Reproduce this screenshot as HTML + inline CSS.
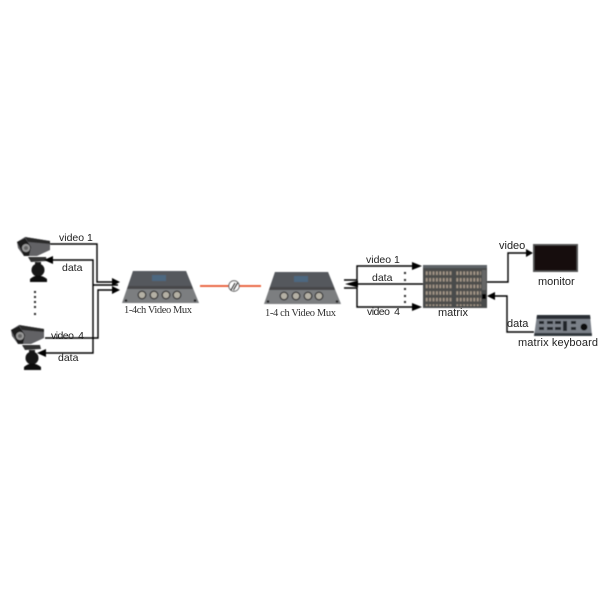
<!DOCTYPE html>
<html>
<head>
<meta charset="utf-8">
<style>
html,body{margin:0;padding:0;background:#fff;width:600px;height:600px;overflow:hidden}
svg{display:block}
text{font-family:"Liberation Sans",sans-serif;font-size:10.5px;fill:#222}
.s{font-family:"Liberation Serif",serif;font-size:10.5px;fill:#333}
.l{fill:none;stroke:#000;stroke-width:1.4}
.a{fill:#000}
</style>
</head>
<body>
<svg width="600" height="600" viewBox="0 0 600 600" xmlns="http://www.w3.org/2000/svg">
<defs>
<filter id="b" x="-10%" y="-10%" width="120%" height="120%"><feGaussianBlur stdDeviation="0.5"/></filter>
<pattern id="m" width="3.4" height="6.6" patternUnits="userSpaceOnUse"><rect width="3.4" height="6.600" fill="#4e4e4c"/><rect x="0.8" y="0.8" width="1.800" height="3.600" fill="#a89a8a"/></pattern>
<g id="cam">
<path d="M1 5 L9 0 L34 4 L34 13 L21 19 L8 19 L2 11Z" fill="#626265"/>
<path d="M9 0 L34 4 L34 7 L12 5Z" fill="#2a2a2c"/>
<path d="M1 5 L9 1 L15 10 L13 19 L8 19Z" fill="#1c1c1e"/>
<circle cx="10" cy="11" r="4" fill="#999"/>
<circle cx="10" cy="11" r="2" fill="#666"/>
<path d="M12 20 L30 20 L31 24 L15 25Z" fill="#333"/>
<rect x="19" y="25" width="6" height="4" fill="#222"/>
<circle cx="22" cy="33" r="6.500" fill="#151515"/>
<path d="M14 42 Q22 35 31 42 L31 45 L14 45Z" fill="#0c0c0c"/>
</g>
<g id="mux">
<path d="M11 0 L64 0 L77 32 L0 32Z" fill="#7c7e80"/>
<path d="M11 0 L64 0 L70 15 L6 15Z" fill="#55595d"/>
<rect x="30" y="4" width="14" height="6" fill="#4d6880"/>
<path d="M6 15 L70 15 L71 18 L5 18Z" fill="#47474a"/>
<g fill="#b4b0a4" stroke="#3a3a3a" stroke-width="1.400"><circle cx="20" cy="24" r="3.800"/><circle cx="32" cy="24" r="3.800"/><circle cx="44" cy="24" r="3.800"/><circle cx="55" cy="24" r="3.800"/></g>
<g fill="#222"><circle cx="4" cy="29.500" r="1.300"/><circle cx="73" cy="29.500" r="1.300"/></g>
</g>
</defs>

<g filter="url(#b)">
<use href="#cam" x="16" y="237"/>
<use href="#cam" x="10" y="325"/>
<use href="#mux" x="122" y="271"/>
<use href="#mux" x="264" y="272"/>

<!-- left wiring -->
<path class="l" d="M50 244H97V282H114"/>
<path class="l" d="M45 338H98V290H114"/>
<path class="l" d="M50 260H93V353H44"/>
<path class="l" d="M93 285H118"/>
<path class="a" d="M120 282L112 278V286Z"/>
<path class="a" d="M120 290L112 286V294Z"/>
<path class="a" d="M44 260L53 256V264Z"/>
<path class="a" d="M37 353L46 349V357Z"/>
<g fill="#222"><rect x="34" y="291" width="2" height="2"/><rect x="34" y="296" width="2" height="2"/><rect x="34" y="301" width="2" height="2"/><rect x="34" y="306" width="2" height="2"/><rect x="34" y="313" width="2" height="2"/></g>

<!-- fiber -->
<path d="M200 286H261" stroke="#e8542c" stroke-width="1.800" fill="none"/>
<circle cx="234" cy="286" r="5.200" fill="#fff" stroke="#555" stroke-width="1"/>
<path d="M231 290L235 283M233.500 290L237.500 283" stroke="#111" stroke-width="1.300"/>

<!-- middle wiring -->
<path class="l" d="M344 280H357V266H415"/>
<path class="l" d="M344 288H357V307H415"/>
<path class="l" d="M350 284H423"/>
<path class="a" d="M422 266L412 262V270Z"/>
<path class="a" d="M422 307L412 303V311Z"/>
<path class="a" d="M345 284L358 280.500V287.500Z"/>
<g fill="#222"><rect x="404" y="272" width="2" height="2"/><rect x="404" y="279" width="2" height="2"/><rect x="404" y="288" width="2" height="2"/><rect x="404" y="295" width="2" height="2"/><rect x="404" y="301" width="2" height="2"/></g>

<!-- matrix -->
<rect x="423" y="265" width="64" height="43" fill="#4a4c4c"/>
<rect x="423" y="265" width="64" height="3" fill="#5e6468"/>
<rect x="425" y="270" width="27" height="36" fill="url(#m)"/>
<rect x="456" y="270" width="25" height="36" fill="url(#m)"/>
<rect x="482" y="270" width="4" height="20" fill="#666"/>
<rect x="482" y="294" width="4" height="5" fill="#000"/>

<!-- right wiring -->
<path class="l" d="M487 282H508V253H528"/>
<path class="a" d="M533 253L526 249V257Z"/>
<path class="l" d="M534 332H507V296H492"/>
<path class="a" d="M487 296L495 292V300Z"/>

<!-- monitor -->
<rect x="533" y="244" width="45" height="28" fill="#555"/>
<rect x="534.500" y="245.500" width="42" height="25" fill="#141010"/>

<!-- keyboard -->
<path d="M537 315H590L592 336H534Z" fill="#7a8088"/>
<path d="M537 315H590L590.500 319H536.500Z" fill="#2a2e34"/>
<path d="M534.500 333H591.700L592 336H534Z" fill="#33373c"/>
<g fill="#22262a">
<rect x="539" y="321" width="5" height="3"/><rect x="547" y="321" width="6" height="3"/><rect x="555" y="321" width="6" height="3"/><rect x="563" y="321" width="4" height="10"/><rect x="571" y="321" width="5" height="3"/>
<rect x="539" y="327" width="5" height="3"/><rect x="547" y="327" width="6" height="3"/><rect x="555" y="327" width="6" height="3"/><rect x="571" y="327" width="5" height="3"/>
</g>
<circle cx="584" cy="327" r="3.500" fill="#111"/>
</g>

<!-- labels -->
<text x="59" y="241">video 1</text>
<text x="62" y="271">data</text>
<text x="51" y="339" textLength="33">video&#160;&#160;4</text>
<text x="58" y="361">data</text>
<text class="s" x="124" y="313" textLength="68">1-4ch Video Mux</text>
<text class="s" x="265" y="316" textLength="71">1-4 ch Video Mux</text>
<text x="366" y="263">video 1</text>
<text x="372" y="281">data</text>
<text x="367" y="315" textLength="33">video&#160;&#160;4</text>
<text x="438" y="316" style="font-size:11px">matrix</text>
<text x="499" y="249" style="font-size:11px">video</text>
<text x="538" y="285" style="font-size:11px">monitor</text>
<text x="507" y="327" style="font-size:11px">data</text>
<text x="518" y="346" style="font-size:11px" textLength="80">matrix keyboard</text>
</svg>
</body>
</html>
